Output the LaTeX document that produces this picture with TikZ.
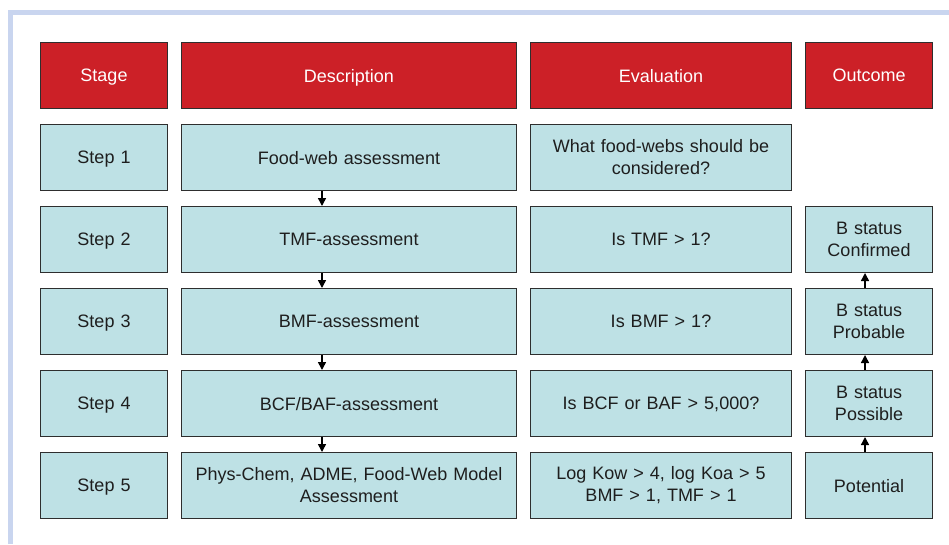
\documentclass[tikz,border=0pt]{standalone}
\usepackage{fontspec}
\setmainfont{Liberation Sans}
\usetikzlibrary{arrows.meta}
\definecolor{hdrred}{HTML}{CC2027}
\definecolor{cellblue}{HTML}{BEE1E5}
\definecolor{framebl}{HTML}{C9D5EF}
\definecolor{edgegray}{HTML}{2E2E2E}
\definecolor{txtdark}{HTML}{1E1E1E}
\begin{document}
\begin{tikzpicture}[x=1pt,y=-1pt,
  cellbox/.style={draw=edgegray,line width=1pt,anchor=north west,inner sep=0pt,
    align=center,font=\fontsize{18}{22}\selectfont,minimum height=66pt},
  one/.style={text depth=0pt},
  two/.style={yshift=0pt},
  hdr/.style={cellbox,fill=hdrred,text=white,one},
  cell/.style={cellbox,fill=cellblue,text=txtdark},
  wA/.style={minimum width=127pt,text width=120pt},
  wB/.style={minimum width=335pt,text width=325pt},
  wC/.style={minimum width=261pt,text width=255pt},
  wD/.style={minimum width=127pt,text width=120pt},
  arr/.style={line width=1.5pt,-{Triangle[length=8pt,width=8pt]}}]
\useasboundingbox (0,0) rectangle (949,544);
\fill[white] (0,0) rectangle (949,544);
\draw[framebl,line width=5pt] (10.5,544) -- (10.5,12.5) -- (949,12.5);
% header
\node[hdr,wA] (h1) at (40,42) {Stage};
\node[hdr,wB] (h2) at (181,42) {Description};
\node[hdr,wC] (h3) at (530,42) {Evaluation};
\node[hdr,wD] (h4) at (805,42) {Outcome};
% rows
\node[cell,one,wA] (s1) at (40,124) {Step 1};
\node[cell,one,wB] (d1) at (181,124) {Food-web assessment};
\node[cell,two,wC] (e1) at (530,124) {What food-webs should be\\considered?};
\node[cell,one,wA] (s2) at (40,206) {Step 2};
\node[cell,one,wB] (d2) at (181,206) {TMF-assessment};
\node[cell,one,wC] (e2) at (530,206) {Is TMF \textgreater{} 1?};
\node[cell,two,wD] (o2) at (805,206) {B status\\Confirmed};
\node[cell,one,wA] (s3) at (40,288) {Step 3};
\node[cell,one,wB] (d3) at (181,288) {BMF-assessment};
\node[cell,one,wC] (e3) at (530,288) {Is BMF \textgreater{} 1?};
\node[cell,two,wD] (o3) at (805,288) {B status\\Probable};
\node[cell,one,wA] (s4) at (40,370) {Step 4};
\node[cell,one,wB] (d4) at (181,370) {BCF/BAF-assessment};
\node[cell,one,wC] (e4) at (530,370) {Is BCF or BAF \textgreater{} 5,000?};
\node[cell,two,wD] (o4) at (805,370) {B status\\Possible};
\node[cell,one,wA] (s5) at (40,452) {Step 5};
\node[cell,two,wB] (d5) at (181,452) {Phys-Chem, ADME, Food-Web Model\\Assessment};
\node[cell,two,wC] (e5) at (530,452) {Log Kow \textgreater{} 4, log Koa \textgreater{} 5\\BMF \textgreater{} 1, TMF \textgreater{} 1};
\node[cell,one,wD] (o5) at (805,452) {Potential};
% arrow columns
\coordinate (ax) at (322,0);
\coordinate (bx) at (865,0);
\draw[arr] (d1.south -| ax) -- (d2.north -| ax);
\draw[arr] (d2.south -| ax) -- (d3.north -| ax);
\draw[arr] (d3.south -| ax) -- (d4.north -| ax);
\draw[arr] (d4.south -| ax) -- (d5.north -| ax);
\draw[arr] (o5.north -| bx) -- (o4.south -| bx);
\draw[arr] (o4.north -| bx) -- (o3.south -| bx);
\draw[arr] (o3.north -| bx) -- (o2.south -| bx);
\end{tikzpicture}
\end{document}
